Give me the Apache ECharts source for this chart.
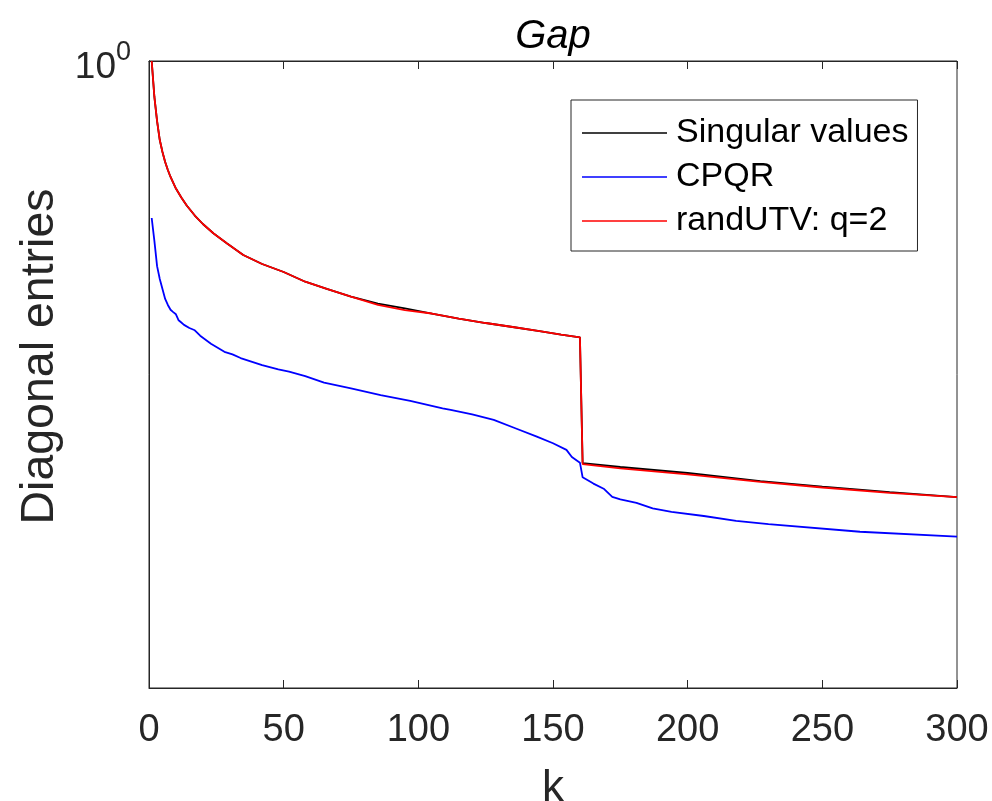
<!DOCTYPE html>
<html>
<head>
<meta charset="utf-8">
<script src="https://cdn.jsdelivr.net/npm/echarts@6/dist/echarts.min.js"></script>
<style>
  html, body { margin: 0; padding: 0; background: #fff; overflow: hidden; }
  #main { width: 992px; height: 801px; }
</style>
</head>
<body>
<div id="main"></div>
<script>
// singular values
const kSv = [1, 2, 3, 4, 5, 6, 7, 8, 10, 12, 14, 17, 20, 24, 29, 35, 42, 50, 58, 66, 75, 85, 95, 105, 115, 125, 135, 145, 153, 160, 161, 175, 200, 227, 250, 275, 300]
const sv = [1.000, 0.9118, 0.8572, 0.8164, 0.7917, 0.7717, 0.7560, 0.7425, 0.7208, 0.7044, 0.6901, 0.6726, 0.6581, 0.6422, 0.6260, 0.6078, 0.5939, 0.5818, 0.5675, 0.5570, 0.5461, 0.5366, 0.5298, 0.5230, 0.5163, 0.5104, 0.5052, 0.5000, 0.4955, 0.4920, 0.3563, 0.3527, 0.3473, 0.3402, 0.3354, 0.3307, 0.3265]

// CPQR diagonal
const kCpqr = [1, 2, 3, 4, 5, 6, 7, 8, 9, 10, 11, 12, 13, 15, 17, 19, 23, 28, 31, 34, 42, 48, 52, 58, 65, 75, 86, 97, 109, 112, 120, 128, 136, 144, 150, 155, 157, 160, 161, 165, 169, 172, 175, 181, 187, 194, 206, 218, 230, 264, 300]
const cpqr = [0.6683, 0.6302, 0.5906, 0.5714, 0.5570, 0.5430, 0.5346, 0.5280, 0.5249, 0.5220, 0.5140, 0.5110, 0.5080, 0.5039, 0.5010, 0.4940, 0.4840, 0.4740, 0.4710, 0.4665, 0.4580, 0.4530, 0.4504, 0.4453, 0.4380, 0.4316, 0.4242, 0.4180, 0.4100, 0.4083, 0.4036, 0.3980, 0.3896, 0.3813, 0.3749, 0.3685, 0.3619, 0.3566, 0.3435, 0.3380, 0.3333, 0.3267, 0.3245, 0.3217, 0.3171, 0.3144, 0.3110, 0.3072, 0.3046, 0.2987, 0.2949]

// randUTV q=2 diagonal
const kUtv = [1, 2, 3, 4, 5, 6, 7, 8, 10, 12, 14, 17, 20, 24, 29, 35, 42, 50, 58, 66, 75, 85, 95, 105, 115, 125, 135, 145, 153, 160, 161, 175, 200, 227, 250, 275, 300]
const utv = [1.000, 0.9118, 0.8572, 0.8164, 0.7917, 0.7717, 0.7560, 0.7425, 0.7208, 0.7044, 0.6901, 0.6726, 0.6581, 0.6422, 0.6260, 0.6078, 0.5939, 0.5818, 0.5675, 0.5570, 0.5461, 0.5346, 0.5277, 0.5230, 0.5163, 0.5104, 0.5052, 0.5000, 0.4955, 0.4920, 0.3554, 0.3514, 0.3460, 0.3394, 0.3346, 0.3301, 0.3265]

const xTicks = [0, 50, 100, 150, 200, 250, 300]

const font = "'Liberation Sans', Arial, Helvetica, sans-serif"
const axisColor = '#262626'

const pairs = (ks, vs) => ks.map((k, i) => [k, vs[i]])

const option = {
  animation: false,
  backgroundColor: '#fff',
  title: {
    text: 'Gap',
    left: 553,
    top: 17,
    padding: 0,
    textAlign: 'center',
    textStyle: { fontFamily: font, fontSize: 40, fontStyle: 'italic', fontWeight: 'normal', color: '#000' }
  },
  legend: {
    orient: 'vertical',
    left: 571,
    top: 100,
    padding: [16, 9, 13, 11],
    itemGap: 10,
    itemWidth: 85,
    itemHeight: 1.5,
    icon: 'rect',
    backgroundColor: '#fff',
    borderColor: axisColor,
    borderWidth: 1,
    borderRadius: 0,
    textStyle: { fontFamily: font, fontSize: 34, color: '#000', padding: [0, 0, 0, 4] },
    data: ['Singular values', 'CPQR', 'randUTV: q=2']
  },
  grid: {
    left: 149,
    top: 61,
    width: 808,
    height: 627,
    show: true,
    borderColor: axisColor,
    borderWidth: 1,
    containLabel: false,
    outerBoundsMode: 'none'
  },
  xAxis: [
    {
      type: 'value',
      min: 0,
      max: 300,
      interval: 50,
      name: 'k',
      nameLocation: 'middle',
      nameGap: 79,
      nameTextStyle: { fontFamily: font, fontSize: 44, color: axisColor },
      axisLine: { lineStyle: { color: axisColor, width: 1 } },
      axisTick: { inside: true, length: 8, lineStyle: { color: axisColor } },
      axisLabel: {
        margin: 24,
        fontFamily: font,
        fontSize: 38,
        color: axisColor,
        formatter: v => (xTicks.includes(v) ? String(v) : '')
      },
      splitLine: { show: false }
    },
    {
      type: 'value',
      position: 'top',
      min: 0,
      max: 300,
      interval: 50,
      axisLine: { lineStyle: { color: axisColor, width: 1 } },
      axisTick: { inside: true, length: 8, lineStyle: { color: axisColor } },
      axisLabel: { show: false },
      splitLine: { show: false }
    }
  ],
  yAxis: [
    {
      type: 'log',
      logBase: 10,
      min: 0.2,
      max: 1,
      name: 'Diagonal entries',
      nameLocation: 'middle',
      nameRotate: 90,
      nameGap: 85,
      nameTextStyle: { fontFamily: font, fontSize: 46.5, color: axisColor, padding: [0, 0, 0, 36] },
      axisLine: { lineStyle: { color: axisColor, width: 1 } },
      axisTick: { show: false },
      splitLine: { show: false },
      minorTick: { show: false },
      axisLabel: {
        margin: 18,
        fontFamily: font,
        color: axisColor,
        padding: [0, 0, 7, 0],
        formatter: v => (Math.abs(v - 1) < 1e-6 ? '{a|10}{b|0}' : ''),
        rich: {
          a: { fontFamily: font, fontSize: 37, color: axisColor, padding: [20, 0, 0, 0], verticalAlign: 'bottom' },
          b: { fontFamily: font, fontSize: 27, color: axisColor, padding: [10, 0, 0, 0], verticalAlign: 'top' }
        }
      }
    },
    {
      type: 'log',
      logBase: 10,
      min: 0.2,
      max: 1,
      position: 'right',
      axisLine: { lineStyle: { color: axisColor, width: 1 } },
      axisTick: { show: false },
      axisLabel: { show: false },
      splitLine: { show: false }
    }
  ],
  series: [
    {
      name: 'Singular values',
      type: 'line',
      symbol: 'none',
      lineStyle: { color: '#000000', width: 1.8 },
      itemStyle: { color: '#000000' },
      data: pairs(kSv, sv)
    },
    {
      name: 'CPQR',
      type: 'line',
      symbol: 'none',
      lineStyle: { color: '#0000ff', width: 1.8 },
      itemStyle: { color: '#0000ff' },
      data: pairs(kCpqr, cpqr)
    },
    {
      name: 'randUTV: q=2',
      type: 'line',
      symbol: 'none',
      lineStyle: { color: '#ff0000', width: 1.8 },
      itemStyle: { color: '#ff0000' },
      data: pairs(kUtv, utv)
    }
  ]
}

const myChart = echarts.init(document.getElementById('main'))
myChart.setOption(option)
</script>
</body>
</html>
